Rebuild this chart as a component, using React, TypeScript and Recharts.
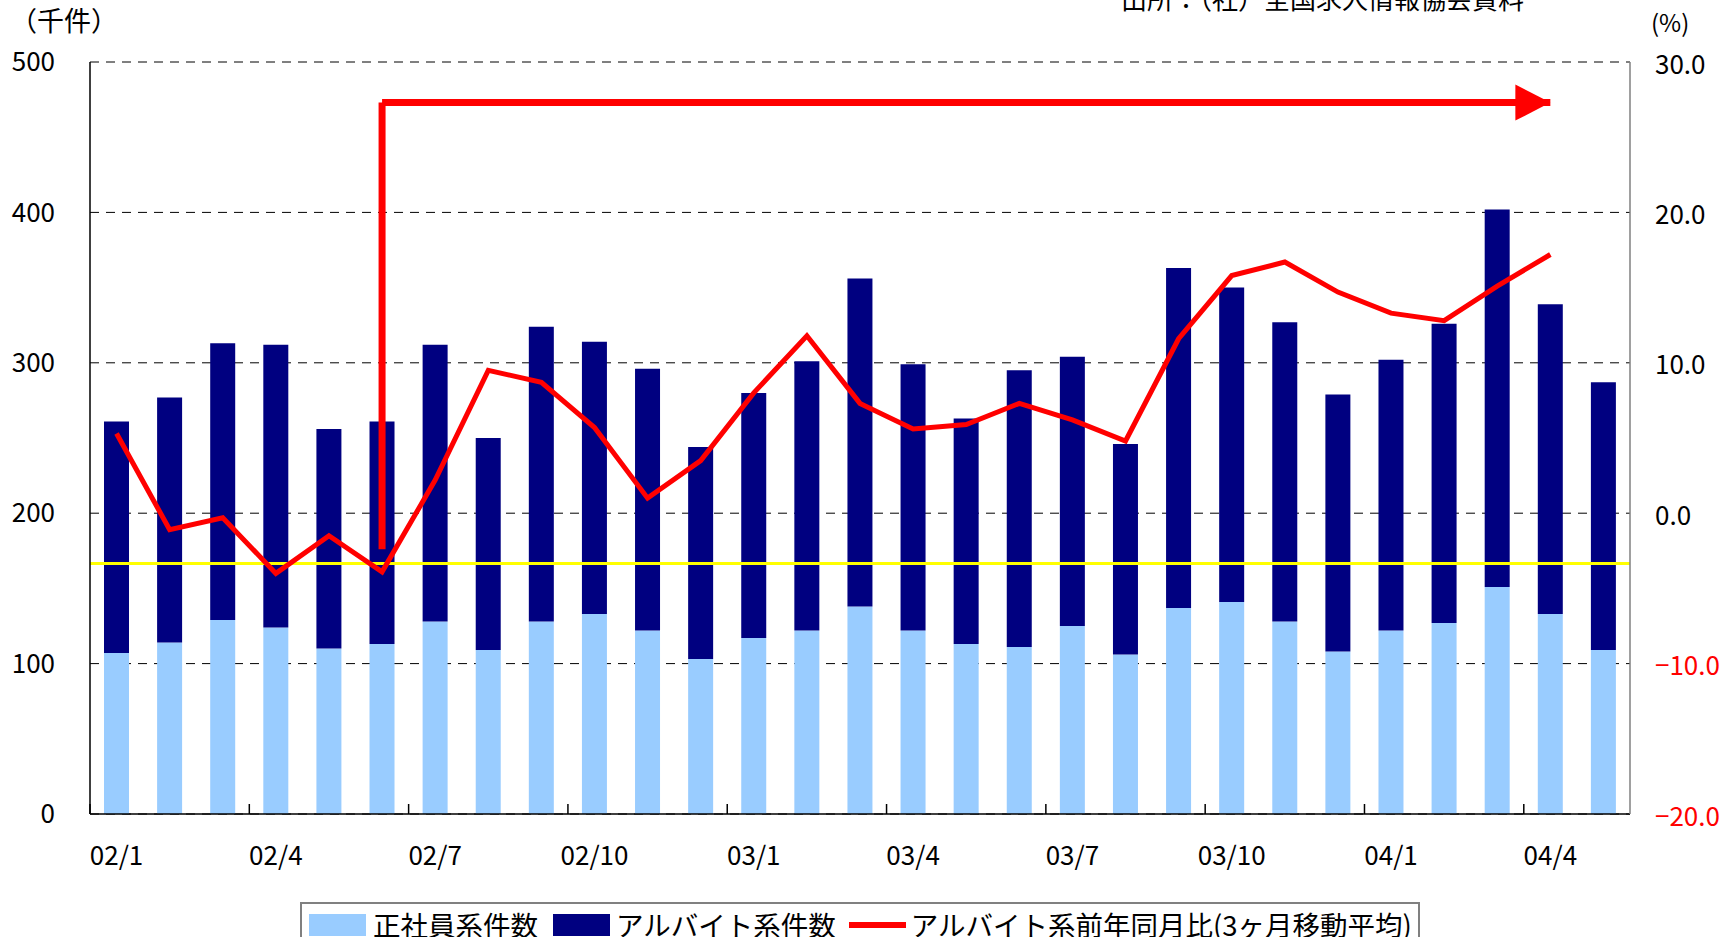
import { Bar, ComposedChart, Line, ReferenceDot, ReferenceLine, CartesianGrid, XAxis, YAxis } from 'recharts';

const months = [
  '02/1', '02/2', '02/3', '02/4', '02/5', '02/6', '02/7', '02/8', '02/9', '02/10', '02/11', '02/12',
  '03/1', '03/2', '03/3', '03/4', '03/5', '03/6', '03/7', '03/8', '03/9', '03/10', '03/11', '03/12',
  '04/1', '04/2', '04/3', '04/4', '04/5',
];

// 正社員系件数 (千件)
const seishain = [
  107, 114, 129, 124, 110, 113, 128, 109, 128, 133, 122, 103,
  117, 122, 138, 122, 113, 111, 125, 106, 137, 141, 128, 108,
  122, 127, 151, 133, 109,
];

// 正社員系 + アルバイト系 の合計 (千件)
const totals = [
  261, 277, 313, 312, 256, 261, 312, 250, 324, 314, 296, 244,
  280, 301, 356, 299, 263, 295, 304, 246, 363, 350, 327, 279,
  302, 326, 402, 339, 287,
];

// アルバイト系前年同月比 (3ヶ月移動平均, %)
const yoy: (number | null)[] = [
  5.3, -1.1, -0.3, -4.0, -1.5, -3.9, 2.2, 9.5, 8.7, 5.7, 1.0, 3.5,
  8.0, 11.8, 7.3, 5.6, 5.9, 7.3, 6.2, 4.8, 11.6, 15.8, 16.7, 14.7,
  13.3, 12.8, 15.1, 17.2, null,
];

const trendLevel = -3.35;
const arrowFrom = '02/6';
const arrowTo = '04/4';
const arrowBottom = -2.4;
const arrowTop = 27.3;

const leftTicks = [0, 100, 200, 300, 400, 500];
const rightTicks = [-20, -10, 0, 10, 20, 30];

const data = months.map((m, i) => ({
  month: m,
  seishain: seishain[i],
  arubaito: totals[i] - seishain[i],
  yoy: yoy[i],
}));

const FONT = '"Noto Sans CJK JP", "Noto Sans", sans-serif';
const PLOT_W = 1540;
const BAND = PLOT_W / months.length;

const MonthTick = (props: any) => {
  const { x, y, payload, index } = props;
  const i = index ?? months.indexOf(payload.value);
  if (i % 3 !== 0) return null;
  const half = payload.offset ?? BAND / 2;
  return (
    <g>
      <line x1={x - half} x2={x - half} y1={y} y2={y - 10} stroke="#000" strokeWidth={1.5} />
      <text x={x} y={y + 39} textAnchor="middle" dominantBaseline="central" fontFamily={FONT} fontSize={26} fill="#000">
        {payload.value}
      </text>
    </g>
  );
};

const RightTick = (props: any) => {
  const { x, y, payload } = props;
  const v = payload.value as number;
  return (
    <text x={x} y={y} textAnchor="start" dominantBaseline="central" fontFamily={FONT} fontSize={26} fill={v < 0 ? '#ff0000' : '#000'}>
      {v < 0 ? '−' + Math.abs(v).toFixed(1) : v.toFixed(1)}
    </text>
  );
};

const ArrowHead = (props: any) => {
  const { cx, cy } = props;
  return <polygon points={`${cx},${cy} ${cx - 35},${cy - 18} ${cx - 35},${cy + 18}`} fill="#ff0000" />;
};

const swatch = (color: string, h: number, top: number) => (
  <span style={{ display: 'inline-block', width: 57, height: h, background: color, marginTop: top }} />
);

export default function App() {
  return (
    <div style={{ position: 'relative', width: 1729, height: 937, overflow: 'hidden', background: '#fff', fontFamily: FONT }}>
      <style>{'body{margin:0}'}</style>
      <ComposedChart
        width={1729}
        height={937}
        data={data}
        margin={{ top: 62, right: 0, bottom: 63, left: 0 }}
      >
        <CartesianGrid vertical={false} stroke="#000" strokeDasharray="9 7" horizontalValues={leftTicks} yAxisId="left" />
        <XAxis
          dataKey="month"
          height={60}
          interval={0}
          tickLine={false}
          tickSize={0}
          tickMargin={0}
          tick={<MonthTick />}
          axisLine={{ stroke: '#000', strokeWidth: 1.5 }}
        />
        <YAxis
          yAxisId="left"
          width={90}
          domain={[0, 500]}
          ticks={leftTicks}
          tickLine={false}
          tickSize={0}
          tickMargin={35}
          axisLine={{ stroke: '#000', strokeWidth: 1.5 }}
          tick={{ fontFamily: FONT, fontSize: 26, fill: '#000' }}
        />
        <YAxis
          yAxisId="right"
          orientation="right"
          width={99}
          domain={[-20, 30]}
          ticks={rightTicks}
          tickLine={false}
          tickSize={0}
          tickMargin={25}
          axisLine={{ stroke: '#808080', strokeWidth: 1.5 }}
          tick={<RightTick />}
        />
        <Bar yAxisId="left" dataKey="seishain" stackId="a" fill="#99ccff" barSize={25} isAnimationActive={false} />
        <Bar yAxisId="left" dataKey="arubaito" stackId="a" fill="#000080" barSize={25} isAnimationActive={false} />
        <ReferenceLine yAxisId="right" y={trendLevel} stroke="#ffff00" strokeWidth={3} />
        <Line
          yAxisId="right"
          dataKey="yoy"
          stroke="#ff0000"
          strokeWidth={5}
          dot={false}
          activeDot={false}
          isAnimationActive={false}
        />
        <ReferenceLine
          yAxisId="right"
          segment={[{ x: arrowFrom, y: arrowBottom }, { x: arrowFrom, y: arrowTop }]}
          stroke="#ff0000"
          strokeWidth={7}
        />
        <ReferenceLine
          yAxisId="right"
          segment={[{ x: arrowFrom, y: arrowTop }, { x: arrowTo, y: arrowTop }]}
          stroke="#ff0000"
          strokeWidth={7}
        />
        <ReferenceDot yAxisId="right" x={arrowTo} y={arrowTop} r={1} shape={<ArrowHead />} />
      </ComposedChart>

      <div style={{ position: 'absolute', left: 10, top: 2, fontSize: 27, lineHeight: '36px' }}>（千件）</div>
      <div style={{ position: 'absolute', left: 1651, top: 6, fontSize: 24, lineHeight: '32px' }}>(%)</div>
      <div style={{ position: 'absolute', left: 1121, top: -20, fontSize: 26, lineHeight: '36px', whiteSpace: 'nowrap' }}>
        出所：（社）全国求人情報協会資料
      </div>

      <div
        style={{
          position: 'absolute',
          left: 300,
          top: 902,
          width: 1120,
          height: 60,
          border: '2px solid #808080',
          boxSizing: 'border-box',
          display: 'flex',
          alignItems: 'flex-start',
          paddingTop: 3,
          paddingLeft: 7,
          fontSize: 27.5,
          lineHeight: '34px',
          whiteSpace: 'nowrap',
        }}
      >
        {swatch('#99ccff', 22, 7)}
        <span style={{ marginLeft: 7, marginRight: 15 }}>正社員系件数</span>
        {swatch('#000080', 22, 7)}
        <span style={{ marginLeft: 6, marginRight: 13 }}>アルバイト系件数</span>
        {swatch('#ff0000', 6, 15)}
        <span style={{ marginLeft: 5 }}>アルバイト系前年同月比(3ヶ月移動平均)</span>
      </div>
    </div>
  );
}
